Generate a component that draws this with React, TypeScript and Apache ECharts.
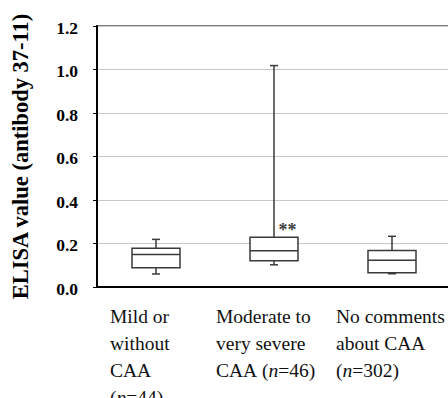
import React, { useEffect, useRef } from "react";
import * as echarts from "echarts";

// ---- data ----
const categories = [
  "Mild or\nwithout\nCAA\n(n=44)",
  "Moderate to\nvery severe\nCAA (n=46)",
  "No comments\nabout CAA\n(n=302)",
];
// [min, Q1, median, Q3, max]
const boxMin = [0.06, 0.102, 0.061];
const boxQ1 = [0.089, 0.121, 0.066];
const boxMedian = [0.15, 0.167, 0.123];
const boxQ3 = [0.178, 0.229, 0.168];
const boxMax = [0.219, 1.018, 0.233];
const significance = [{ category: 1, value: 0.262, text: "**" }];
const yTicks = { min: 0, max: 1.2, interval: 0.2 };
const yTitle = "ELISA value (antibody 37-11)";

// ---- layout ----
const labelBlockWidths = [92, 116, 112];
const SERIF = "Liberation Serif";

function formatLabel(value: string, index: number) {
  const lines = value.split("\n").map((line) => {
    const parts: string[] = [];
    const m = line.match(/\(n=(\d+)\)/);
    if (m && m.index !== undefined) {
      const before = line.slice(0, m.index);
      if (before) parts.push(`{t|${before}}`);
      parts.push(`{t|(}{i|n}{t|=${m[1]})}`);
    } else {
      parts.push(`{t|${line}}`);
    }
    return parts.join("");
  });
  lines.push(`{sp${index}| }`);
  return lines.join("\n");
}

export default function App() {
  const ref = useRef<HTMLDivElement>(null);
  useEffect(() => {
    if (!ref.current) return;
    const chart = echarts.init(ref.current, undefined, { renderer: "svg" });
    const boxData = categories.map((_, i) => [
      i,
      boxMin[i],
      boxQ1[i],
      boxMedian[i],
      boxQ3[i],
      boxMax[i],
    ]);
    const rich: any = {
      t: { align: "left", fontFamily: SERIF, fontSize: 19.5, lineHeight: 27, color: "#111" },
      i: { align: "left", fontFamily: SERIF, fontSize: 19.5, lineHeight: 27, color: "#111", fontStyle: "italic" },
    };
    labelBlockWidths.forEach((w, i) => {
      rich["sp" + i] = { align: "left", width: w, fontSize: 10, lineHeight: 10 };
    });
    chart.setOption({
      animation: false,
      backgroundColor: "#ffffff",
      textStyle: { fontFamily: SERIF },
      grid: {
        left: 97,
        top: 26,
        width: 354,
        height: 261,
        containLabel: false,
        outerBoundsMode: "none",
        show: true,
        borderColor: "#555",
        borderWidth: 1.5,
        backgroundColor: "transparent",
      },
      xAxis: {
        type: "category",
        data: categories,
        boundaryGap: true,
        axisLine: { lineStyle: { color: "#000", width: 2 } },
        axisTick: { show: false },
        splitLine: { show: false },
        axisLabel: {
          interval: 0,
          margin: 16,
          formatter: formatLabel,
          rich,
        },
      },
      yAxis: {
        type: "value",
        min: yTicks.min,
        max: yTicks.max,
        interval: yTicks.interval,
        name: yTitle,
        nameLocation: "middle",
        nameRotate: 90,
        nameGap: 65,
        nameTextStyle: {
          fontFamily: SERIF,
          fontWeight: "bold",
          fontSize: 22.5,
          color: "#000",
        },
        axisLine: { show: true, lineStyle: { color: "#000", width: 2 } },
        axisTick: { show: true, length: 4, lineStyle: { color: "#000", width: 1 } },
        splitLine: { show: true, lineStyle: { color: "#c8c8c8", width: 1 } },
        axisLabel: {
          margin: 19,
          formatter: (v: number) => `{b|${v.toFixed(1)}}`,
          rich: {
            b: {
              fontFamily: SERIF,
              fontWeight: 700,
              fontSize: 17.5,
              color: "#000",
              padding: [3, 0, 0, 0],
            },
          },
        },
      },
      series: [
        {
          type: "custom",
          data: boxData,
          encode: { x: 0, y: [1, 2, 3, 4, 5] },
          renderItem: (params: any, api: any) => {
            const idx = api.value(0);
            const pMin = api.coord([idx, api.value(1)]);
            const pQ1 = api.coord([idx, api.value(2)]);
            const pMed = api.coord([idx, api.value(3)]);
            const pQ3 = api.coord([idx, api.value(4)]);
            const pMax = api.coord([idx, api.value(5)]);
            const cx = pMed[0];
            const bw = 48;
            const cap = 8;
            const stroke = { stroke: "#3a3a3a", lineWidth: 1.5, fill: null };
            return {
              type: "group",
              children: [
                { type: "line", shape: { x1: cx, y1: pMax[1], x2: cx, y2: pQ3[1] }, style: stroke },
                { type: "line", shape: { x1: cx, y1: pQ1[1], x2: cx, y2: pMin[1] }, style: stroke },
                { type: "line", shape: { x1: cx - cap / 2, y1: pMax[1], x2: cx + cap / 2, y2: pMax[1] }, style: stroke },
                { type: "line", shape: { x1: cx - cap / 2, y1: pMin[1], x2: cx + cap / 2, y2: pMin[1] }, style: stroke },
                {
                  type: "rect",
                  shape: { x: cx - bw / 2, y: pQ3[1], width: bw, height: pQ1[1] - pQ3[1] },
                  style: { fill: "#fff", stroke: "#3a3a3a", lineWidth: 1.5 },
                },
                { type: "line", shape: { x1: cx - bw / 2, y1: pMed[1], x2: cx + bw / 2, y2: pMed[1] }, style: stroke },
              ],
            };
          },
          z: 3,
        },
        {
          type: "scatter",
          symbol: "circle",
          symbolSize: 1,
          itemStyle: { color: "transparent" },
          data: significance.map((s) => ({ value: [s.category, s.value], name: s.text })),
          label: {
            show: true,
            position: "right",
            distance: 4,
            formatter: (p: any) => `{s|${p.name}}`,
            rich: {
              s: { fontFamily: SERIF, fontWeight: 700, fontSize: 18, color: "#000" },
            },
          },
          emphasis: { disabled: true },
          z: 4,
        },
      ],
    });
    return () => chart.dispose();
  }, []);
  return (
    <div
      ref={ref}
      style={{ position: "fixed", left: 0, top: 0, width: 448, height: 398, background: "#fff" }}
    />
  );
}
